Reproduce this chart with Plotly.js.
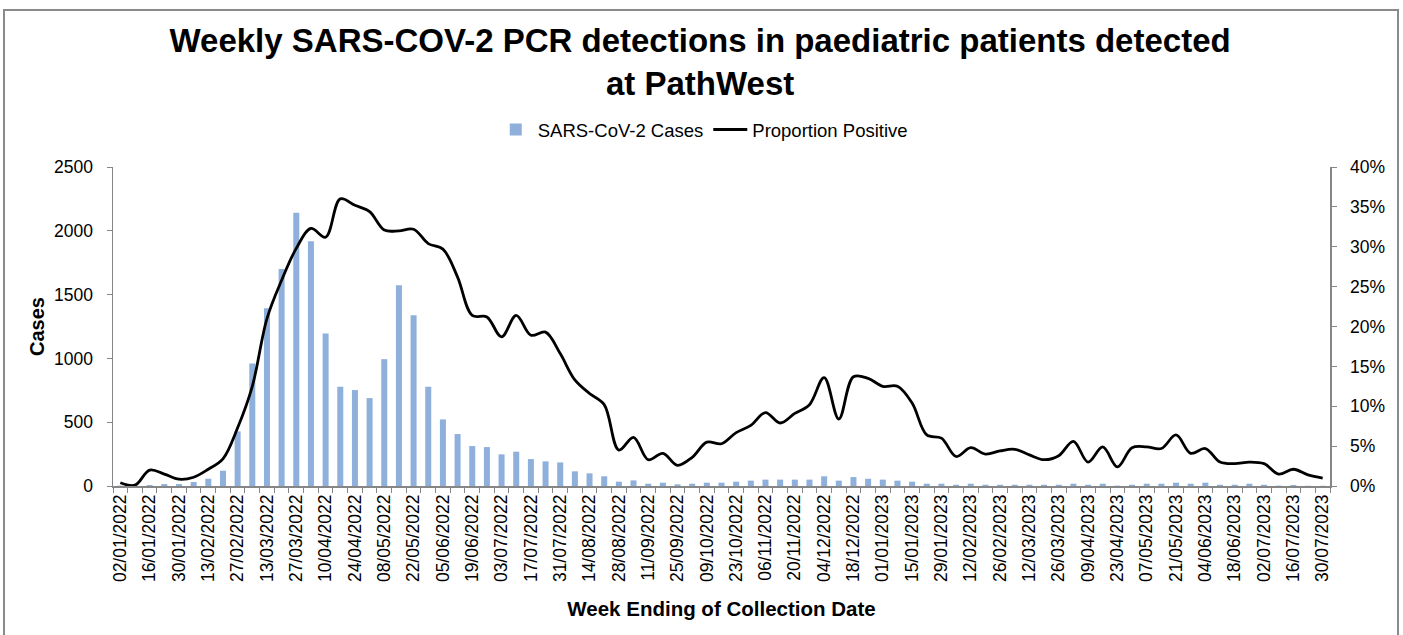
<!DOCTYPE html>
<html>
<head>
<meta charset="utf-8">
<script src="https://cdn.plot.ly/plotly-3.0.1.min.js"></script>
<style>
  html, body { margin: 0; padding: 0; background: #ffffff; }
  #wrap { position: relative; width: 1403px; height: 635px; overflow: hidden; }
  #chart { width: 1403px; height: 635px; }
  #frame { position: absolute; left: 3px; top: 9px; width: 1392px; height: 700px;
           border: 2px solid #8a8a8a; pointer-events: none; }
</style>
</head>
<body>
<div id="wrap">
  <div id="chart"></div>
  <div id="frame"></div>
</div>
<script>
// Week ending dates (categories)
const weeks = [
  "02/01/2022","09/01/2022","16/01/2022","23/01/2022","30/01/2022","06/02/2022","13/02/2022","20/02/2022",
  "27/02/2022","06/03/2022","13/03/2022","20/03/2022","27/03/2022","03/04/2022","10/04/2022","17/04/2022",
  "24/04/2022","01/05/2022","08/05/2022","15/05/2022","22/05/2022","29/05/2022","05/06/2022","12/06/2022",
  "19/06/2022","26/06/2022","03/07/2022","10/07/2022","17/07/2022","24/07/2022","31/07/2022","07/08/2022",
  "14/08/2022","21/08/2022","28/08/2022","04/09/2022","11/09/2022","18/09/2022","25/09/2022","02/10/2022",
  "09/10/2022","16/10/2022","23/10/2022","30/10/2022","06/11/2022","13/11/2022","20/11/2022","27/11/2022",
  "04/12/2022","11/12/2022","18/12/2022","25/12/2022",
  "01/01/2023","08/01/2023","15/01/2023","22/01/2023","29/01/2023","05/02/2023","12/02/2023","19/02/2023",
  "26/02/2023","05/03/2023","12/03/2023","19/03/2023","26/03/2023","02/04/2023","09/04/2023","16/04/2023",
  "23/04/2023","30/04/2023","07/05/2023","14/05/2023","21/05/2023","28/05/2023","04/06/2023","11/06/2023",
  "18/06/2023","25/06/2023","02/07/2023","09/07/2023","16/07/2023","23/07/2023","30/07/2023"
];

// SARS-CoV-2 cases per week
const cases = [
  3, 2, 8, 15, 15, 31, 57, 120, 428, 960,
  1393, 1701, 2142, 1918, 1195, 778, 752, 689, 994, 1574,
  1339, 778, 522, 407, 313, 305, 248, 269, 211, 193,
  185, 115, 99, 76, 34, 44, 18, 26, 13, 18,
  26, 26, 34, 42, 50, 50, 50, 50, 76, 42,
  70, 57, 50, 42, 34, 18, 18, 10, 18, 10,
  10, 10, 10, 10, 10, 18, 10, 18, 3, 10,
  18, 18, 26, 18, 26, 10, 10, 18, 10, 3,
  8, 2, 2
];

// Proportion positive (%)
const proportionPct = [
  0.4, 0.1, 2.0, 1.5, 0.85, 1.1, 2.1, 3.4, 7.3, 12.5,
  21.0, 25.8, 29.8, 32.3, 31.2, 36.0, 35.2, 34.4, 32.1, 32.0,
  32.2, 30.4, 29.7, 26.2, 21.4, 21.2, 18.7, 21.4, 18.9, 19.3,
  16.6, 13.3, 11.6, 10.2, 4.5, 6.1, 3.3, 4.1, 2.6, 3.6,
  5.5, 5.3, 6.7, 7.6, 9.2, 7.9, 9.1, 10.2, 13.6, 8.4,
  13.7, 13.5, 12.5, 12.5, 10.4, 6.4, 6.0, 3.7, 4.8, 4.0,
  4.4, 4.6, 3.9, 3.3, 3.8, 5.6, 3.0, 4.9, 2.4, 4.8,
  4.9, 4.7, 6.4, 4.1, 4.7, 3.0, 2.8, 3.0, 2.8, 1.5,
  2.1, 1.4, 1.0
];

const leftTicks = [0, 500, 1000, 1500, 2000, 2500];
const rightTicks = [0, 0.05, 0.10, 0.15, 0.20, 0.25, 0.30, 0.35, 0.40];

const tickText = weeks.map((w, i) => (i % 2 === 0 ? w : ""));
const proportion = proportionPct.map(v => v / 100);

const FONT = "Liberation Sans, Arial, sans-serif";
const AXIS_GRAY = "#868686";

const traces = [
  {
    type: "bar",
    name: "SARS-CoV-2 Cases",
    x: weeks,
    y: cases,
    marker: { color: "#8FB0DA" },
    hoverinfo: "x+y"
  },
  {
    type: "scatter",
    mode: "lines",
    name: "Proportion Positive",
    x: weeks,
    y: proportion,
    yaxis: "y2",
    line: { color: "#000000", width: 2.8, shape: "spline", smoothing: 1 }
  }
];

const layout = {
  width: 1403,
  height: 635,
  paper_bgcolor: "#ffffff",
  plot_bgcolor: "#ffffff",
  margin: { l: 113, r: 73, t: 167, b: 149, pad: 0 },
  font: { family: FONT, color: "#000000", size: 17 },
  title: {
    text: "Weekly SARS-COV-2 PCR detections in paediatric patients detected<br>at PathWest",
    font: { family: FONT, size: 33, color: "#000000", weight: "bold" },
    x: 0.499, xanchor: "center",
    y: 0.918, yanchor: "top"
  },
  bargap: 0.59,
  showlegend: true,
  legend: {
    orientation: "h",
    x: 0.485, xanchor: "center",
    y: 1.116, yanchor: "middle",
    font: { family: FONT, size: 18.5, color: "#000000" },
    itemwidth: 34,
    traceorder: "normal"
  },
  xaxis: {
    type: "category",
    range: [-0.5, weeks.length - 0.5],
    tickmode: "array",
    tickvals: weeks,
    ticktext: tickText,
    tickson: "boundaries",
    tickangle: -90,
    ticks: "outside",
    ticklen: 5,
    tickcolor: AXIS_GRAY,
    tickwidth: 1,
    tickfont: { family: FONT, size: 17.5, color: "#000000" },
    showline: true,
    linecolor: AXIS_GRAY,
    linewidth: 1.5,
    showgrid: false,
    zeroline: false,
    automargin: false,
    title: {
      text: "Week Ending of Collection Date",
      font: { family: FONT, size: 20.5, color: "#000000", weight: "bold" },
      standoff: 20
    }
  },
  yaxis: {
    range: [0, 2500],
    tickmode: "array",
    tickvals: leftTicks,
    ticks: "outside",
    ticklen: 5,
    tickcolor: AXIS_GRAY,
    ticklabelstandoff: 10,
    tickfont: { family: FONT, size: 17.5, color: "#000000" },
    showline: true,
    linecolor: AXIS_GRAY,
    linewidth: 1.5,
    showgrid: false,
    zeroline: false,
    automargin: false,
    title: {
      text: "Cases",
      font: { family: FONT, size: 20, color: "#000000", weight: "bold" },
      standoff: 4
    }
  },
  yaxis2: {
    overlaying: "y",
    side: "right",
    range: [0, 0.4],
    tickmode: "array",
    tickvals: rightTicks,
    tickformat: ".0%",
    ticks: "outside",
    ticklen: 5,
    tickcolor: AXIS_GRAY,
    ticklabelstandoff: 10,
    tickfont: { family: FONT, size: 17.5, color: "#000000" },
    showline: true,
    linecolor: AXIS_GRAY,
    linewidth: 1.5,
    showgrid: false,
    zeroline: false,
    automargin: false
  }
};

Plotly.newPlot("chart", traces, layout, { displayModeBar: false, staticPlot: true });
</script>
</body>
</html>
